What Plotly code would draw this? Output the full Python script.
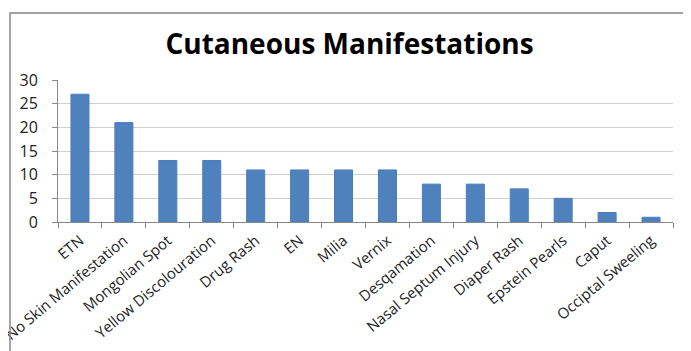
import plotly.graph_objects as go

categories = ["ETN", "No Skin Manifestation", "Mongolian Spot", "Yellow Discolouration",
              "Drug Rash", "EN", "Milia", "Vernix", "Desqamation", "Nasal Septum Injury",
              "Diaper Rash", "Epstein Pearls", "Caput", "Occiptal Sweeling"]
values = [27, 21, 13, 13, 11, 11, 11, 11, 8, 8, 7, 5, 2, 1]
y_ticks = [0, 5, 10, 15, 20, 25, 30]

# page body adds an 8px offset, so the figure is sized to fit the window
W, H = 683, 343
ML, MR, MT, MB = 50, 18, 72, 129
pw, ph = W - ML - MR, H - MT - MB

fig = go.Figure(go.Bar(
    x=categories, y=values,
    marker=dict(color="#4F81BD", line=dict(color="#4A7EBB", width=1)),
))

fig.update_layout(
    width=W, height=H,
    margin=dict(l=ML, r=MR, t=MT, b=MB, autoexpand=False),
    paper_bgcolor="white", plot_bgcolor="white",
    bargap=0.59,
    showlegend=False,
    title=dict(text="<b>Cutaneous Manifestations</b>", x=0.5, xanchor="center",
               y=1 - 36.5 / H, yanchor="middle",
               font=dict(family="Open Sans", size=28, color="black")),
    font=dict(family="Open Sans", size=15, color="#222222"),
    xaxis=dict(tickangle=-40, tickson="boundaries", ticks="outside", ticklen=5,
               tickcolor="#888888", showline=True, linecolor="#888888",
               showgrid=False, automargin=False, ticklabelstandoff=3,
               tickfont=dict(size=15, color="#222222")),
    yaxis=dict(range=[0, 30], tickvals=y_ticks, ticks="outside", ticklen=5,
               tickcolor="#888888", showline=True, linecolor="#888888",
               gridcolor="#D0D0D0", zeroline=False, automargin=False,
               ticklabelstandoff=11,
               tickfont=dict(size=16, color="#222222")),
    shapes=[dict(type="rect", xref="paper", yref="paper",
                 x0=(2 - ML) / pw, x1=(681 - ML) / pw,
                 y0=(H - MB - 360) / ph, y1=(H - MB - 5) / ph,
                 line=dict(color="#888888", width=1.5))],
)

fig.write_html("out.html")
